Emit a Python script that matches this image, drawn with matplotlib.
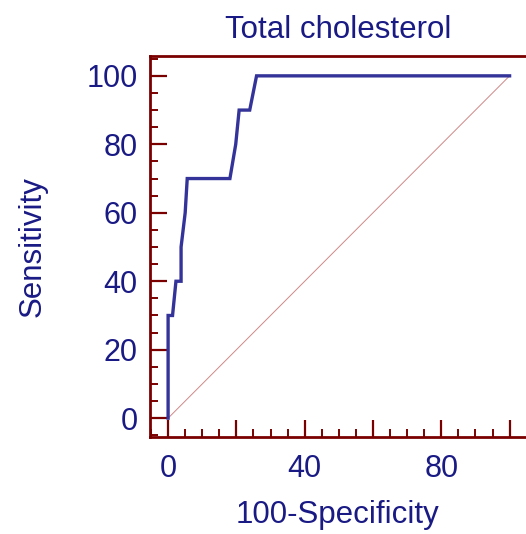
import matplotlib
matplotlib.use("Agg")
import matplotlib.pyplot as plt
from matplotlib.ticker import MultipleLocator, FuncFormatter

# Data
fpr = [0, 0, 1.3, 2.3, 3.8, 3.8, 5.0, 5.6, 18.1, 19.8, 20.8, 23.9, 25.9, 100]
tpr = [0, 30, 30, 40, 40, 50, 60, 70, 70, 80, 90, 90, 100, 100]
ref_x = [0, 100]
ref_y = [0, 100]
x_labels_shown = [0, 40, 80]
title = "Total cholesterol"
xlabel = "100-Specificity"
ylabel = "Sensitivity"

plt.rcParams['font.family'] = ['Liberation Sans', 'DejaVu Sans']
text_color = "#1a1a85"
spine_color = "#7a0000"

fig = plt.figure(figsize=(5.26, 5.34), dpi=100)
ax = fig.add_axes([150/526, 97/534, 1 - 150/526, (437-56)/534])

ax.plot(ref_x, ref_y, color="#d08888", linewidth=0.7, zorder=2)
ax.plot(fpr, tpr, color="#333399", linewidth=2.4, zorder=3, solid_joinstyle='miter')

ax.set_xlim(-5.3, 104.8)
ax.set_ylim(-5.5, 105.8)

for s in ['left', 'bottom', 'top']:
    ax.spines[s].set_color(spine_color)
    ax.spines[s].set_linewidth(2.0)
ax.spines['right'].set_visible(False)

ax.xaxis.set_major_locator(MultipleLocator(20))
ax.xaxis.set_minor_locator(MultipleLocator(5))
ax.yaxis.set_major_locator(MultipleLocator(20))
ax.yaxis.set_minor_locator(MultipleLocator(5))
ax.xaxis.set_major_formatter(FuncFormatter(
    lambda v, p: f"{int(round(v))}" if int(round(v)) in x_labels_shown else ""))
ax.yaxis.set_major_formatter(FuncFormatter(lambda v, p: f"{int(round(v))}"))

ax.tick_params(axis='both', which='major', direction='in', length=12.5, width=1.6,
               color=spine_color, labelcolor=text_color, labelsize=22)
ax.tick_params(axis='both', which='minor', direction='in', length=6, width=1.4,
               color=spine_color)
ax.tick_params(axis='x', which='major', pad=12)
ax.tick_params(axis='y', which='major', pad=9)
ax.tick_params(top=False, right=False, which='both')

ax.set_title(title, color=text_color, fontsize=22.5, pad=13)
ax.set_xlabel(xlabel, color=text_color, fontsize=22.5, labelpad=12)
ax.set_ylabel(ylabel, color=text_color, fontsize=22.5)
ax.yaxis.set_label_coords(-102/376, 0.5)

fig.savefig("out.png", dpi=100)
